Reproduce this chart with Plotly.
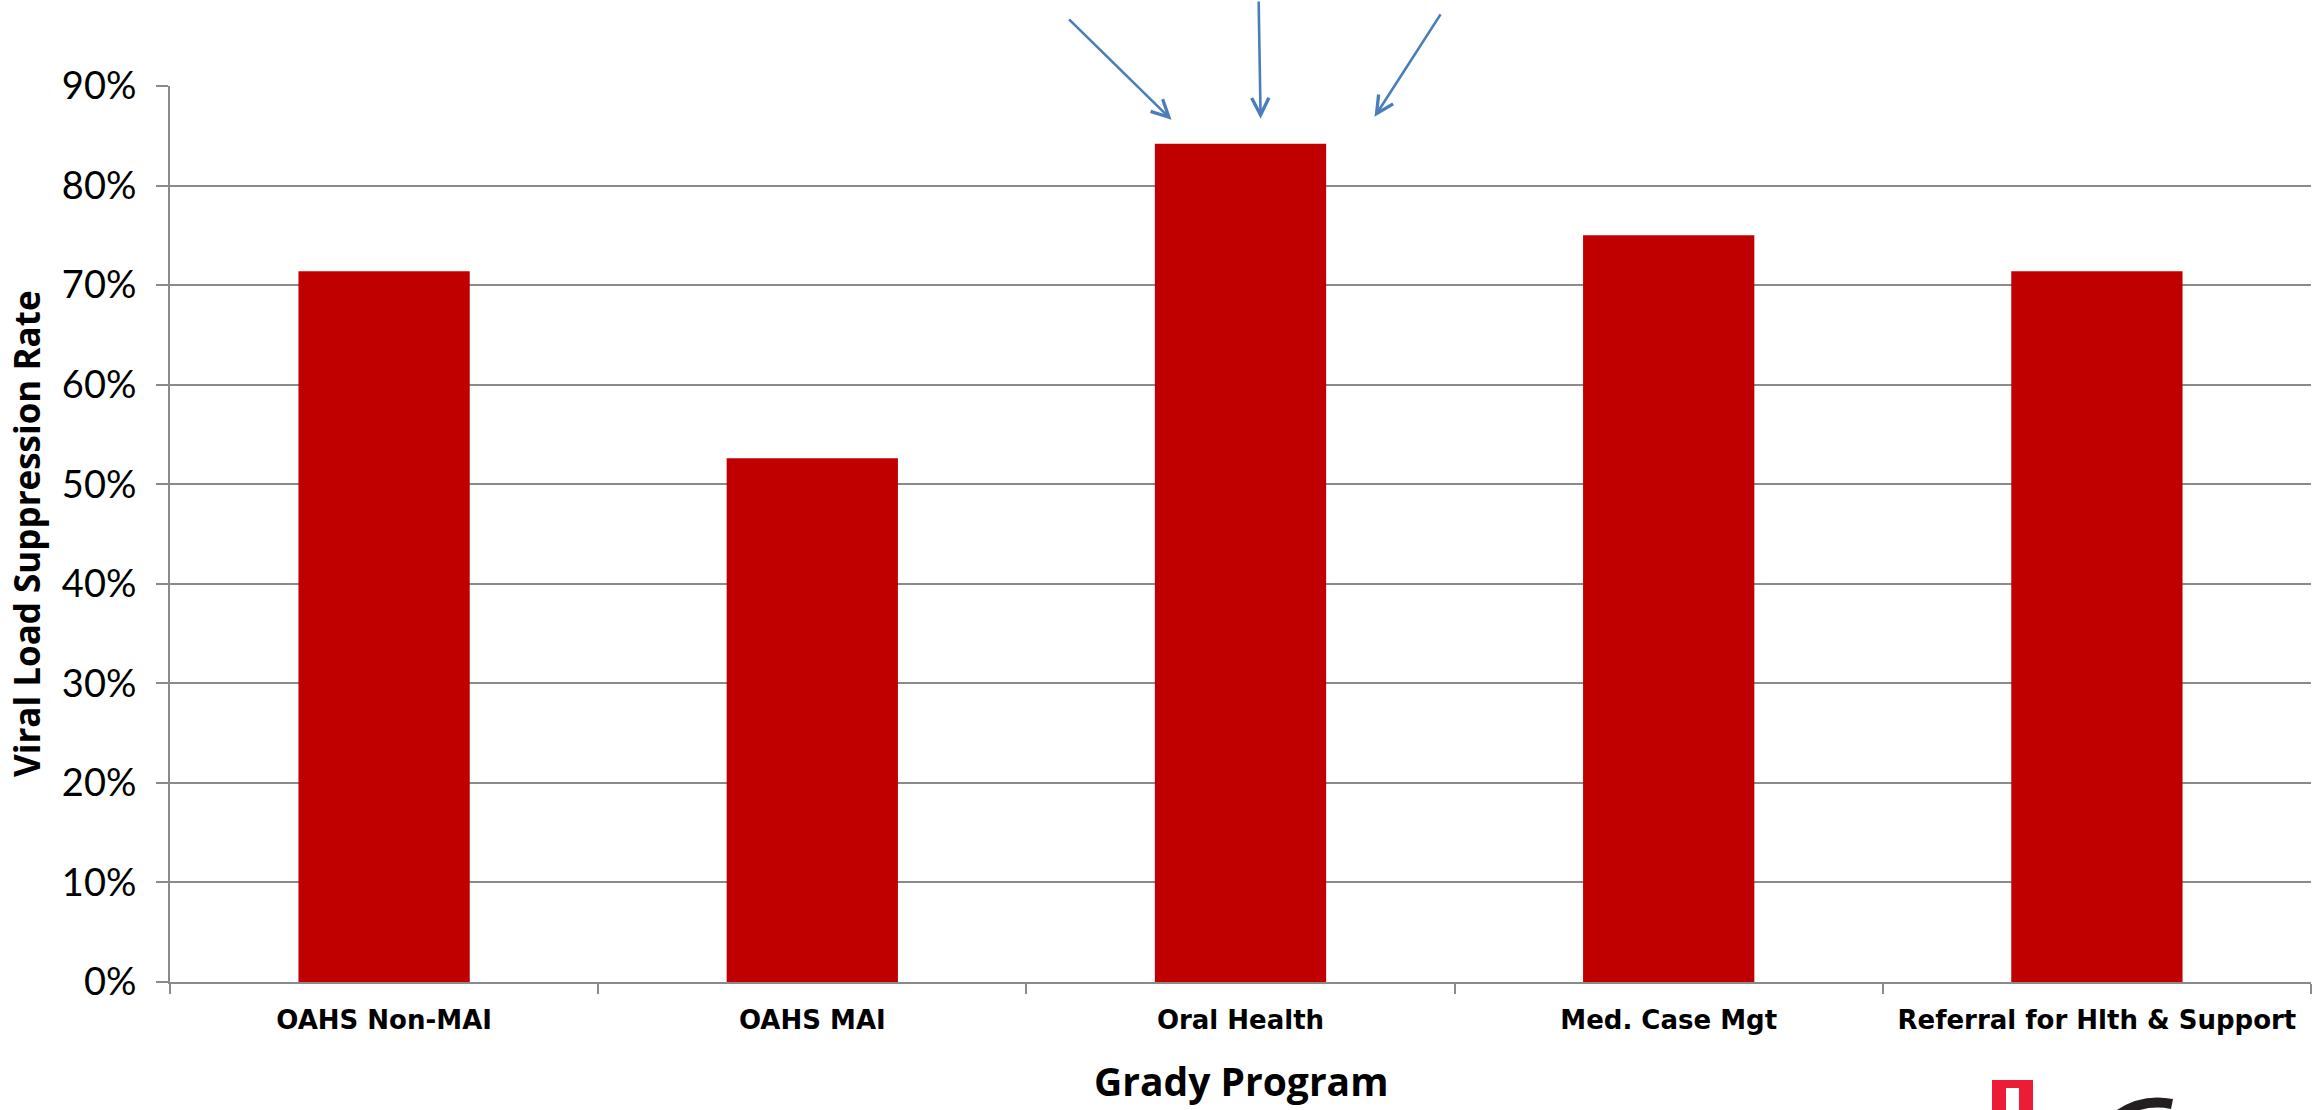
import plotly.graph_objects as go

categories = ["OAHS Non-MAI", "OAHS MAI", "Oral Health", "Med. Case Mgt", "Referral for Hlth & Support"]
suppression_rate = [0.714, 0.526, 0.842, 0.750, 0.714]
y_tick_values = [0, 0.1, 0.2, 0.3, 0.4, 0.5, 0.6, 0.7, 0.8, 0.9]
y_tick_labels = ["0%", "10%", "20%", "30%", "40%", "50%", "60%", "70%", "80%", "90%"]

W, H = 2316, 1110
L, R, T, B = 170, 5, 86, 128
GRID = "#8a8a8a"
BAR = "#c00000"
ARROW = "#4a7ebb"

fig = go.Figure()
fig.add_trace(go.Bar(x=categories, y=suppression_rate, marker=dict(color=BAR, line=dict(width=0)),
                     hoverinfo="x+y"))

fig.update_layout(
    width=W, height=H,
    margin=dict(l=L, r=R, t=T, b=B, pad=0),
    paper_bgcolor="white", plot_bgcolor="white",
    bargap=0.6, showlegend=False,
    font=dict(family="Lato", color="black"),
)

fig.update_xaxes(
    type="category", showline=True, linecolor=GRID, linewidth=2,
    ticks="outside", tickson="boundaries", ticklen=10, tickwidth=2, tickcolor=GRID,
    showgrid=False,
    tickfont=dict(family="DejaVu Sans", size=26, color="black", weight="bold"),
    ticklabelstandoff=14,
)
fig.update_yaxes(
    range=[0, 0.9], tickvals=y_tick_values, ticktext=y_tick_labels,
    showline=True, linecolor=GRID, linewidth=2,
    ticks="outside", ticklen=12, tickwidth=2, tickcolor=GRID,
    showgrid=True, gridcolor=GRID, gridwidth=2, zeroline=False,
    tickfont=dict(family="Lato", size=38, color="black"),
    ticklabelstandoff=12,
)

def px_x(px):
    return (px - L) / (W - L - R)

def px_y(py):
    return (H - B - py) / (H - T - B)

annotations = [
    dict(text="<b>Viral Load Suppression Rate</b>", xref="paper", yref="paper",
         x=px_x(26), y=0.5, xanchor="center", yanchor="middle", textangle=-90,
         showarrow=False, font=dict(family="Open Sans", size=35, color="black")),
    dict(text="<b>Grady Program</b>", xref="paper", yref="paper",
         x=0.5, y=px_y(1080), xanchor="center", yanchor="middle",
         showarrow=False, font=dict(family="Open Sans", size=39, color="black")),
]

# arrows pointing at the Oral Health bar (tip offsets in category units, tail offsets in pixels)
arrow_tips_x = [1.839, 2.047, 2.313]
arrow_tips_y = [0.866, 0.867, 0.869]
arrow_tails = [(-104, -102), (-2, -119), (67, -104)]
for xt, yt, (ax, ay) in zip(arrow_tips_x, arrow_tips_y, arrow_tails):
    annotations.append(dict(x=xt, y=yt, xref="x", yref="y", ax=ax, ay=ay, axref="pixel", ayref="pixel",
                            showarrow=True, arrowhead=5, arrowsize=1.3, arrowwidth=2.6,
                            arrowcolor=ARROW, text=""))
fig.update_layout(annotations=annotations)

# logo fragment at bottom right
g_arc = "M {:.5f},{:.5f} Q {:.5f},{:.5f} {:.5f},{:.5f}".format(
    px_x(2117), px_y(1116), px_x(2142), px_y(1098), px_x(2172), px_y(1104))
shapes = [
    dict(type="rect", xref="paper", yref="paper", x0=px_x(1992), x1=px_x(2033),
         y0=px_y(1120), y1=px_y(1080), fillcolor="#ed1c36", line=dict(width=0), layer="above"),
    dict(type="rect", xref="paper", yref="paper", x0=px_x(2006), x1=px_x(2019),
         y0=px_y(1120), y1=px_y(1088), fillcolor="white", line=dict(width=0), layer="above"),
    dict(type="path", xref="paper", yref="paper", path=g_arc,
         line=dict(color="#231f20", width=10), layer="above"),
]
fig.update_layout(shapes=shapes)

fig.write_html("out.html")
